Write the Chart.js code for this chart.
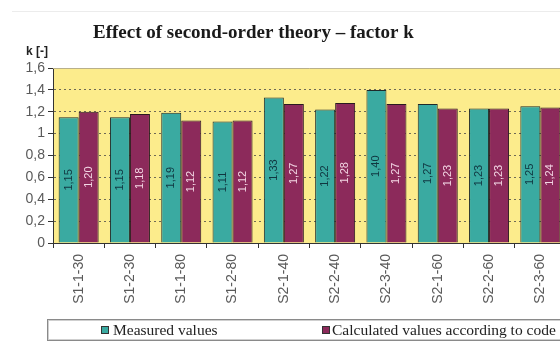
<!DOCTYPE html>
<html>
<head>
<meta charset="utf-8">
<script src="https://cdn.jsdelivr.net/npm/chart.js@4/dist/chart.umd.min.js"></script>
<style>
  html, body { margin: 0; padding: 0; background: #fff; overflow: hidden; }
  #wrap { width: 580px; height: 342px; }
</style>
</head>
<body>
<div id="wrap"><canvas id="c" width="580" height="342"></canvas></div>
<script>
// Specimen designations
const categories = ['S1-1-30', 'S1-2-30', 'S1-1-80', 'S1-2-80', 'S2-1-40', 'S2-2-40', 'S2-3-40', 'S2-1-60', 'S2-2-60', 'S2-3-60'];
// Factor k from tests
const measured = [1.15, 1.15, 1.19, 1.11, 1.33, 1.22, 1.40, 1.27, 1.23, 1.25];
// Factor k from the design code
const calculated = [1.20, 1.18, 1.12, 1.12, 1.27, 1.28, 1.27, 1.23, 1.23, 1.24];
// Value axis labels (decimal comma)
const yTickLabels = ['0', '0,2', '0,4', '0,6', '0,8', '1', '1,2', '1,4', '1,6'];
const seriesNames = ['Measured values', 'Calculated values according to code'];

const TEAL = '#3aaaa1';
const MAROON = '#8c2a5b';
const PLOT_BG = '#fcec8c';

const fmt = v => v.toFixed(2).replace('.', ',');

const decor = {
  id: 'decor',
  beforeDraw(chart) {
    const { ctx, chartArea: a } = chart;
    ctx.save();
    ctx.fillStyle = '#ffffff';
    ctx.fillRect(0, 0, chart.width, chart.height);
    ctx.fillStyle = PLOT_BG;
    ctx.fillRect(a.left, a.top, a.right - a.left, a.bottom - a.top);
    ctx.restore();
  },
  afterDatasetsDraw(chart) {
    const { ctx } = chart;
    const colors = ['#103640', '#f3d6e4'];
    ctx.save();
    ctx.font = '11px "Liberation Sans", Arial, sans-serif';
    ctx.textAlign = 'center';
    ctx.textBaseline = 'middle';
    chart.data.datasets.forEach((ds, di) => {
      const meta = chart.getDatasetMeta(di);
      meta.data.forEach((el, i) => {
        const { x, y, base } = el.getProps(['x', 'y', 'base'], true);
        ctx.save();
        ctx.translate(x, (y + base) / 2);
        ctx.rotate(-Math.PI / 2);
        ctx.fillStyle = colors[di];
        ctx.fillText(fmt(ds.data[i]), 0, 0);
        ctx.restore();
      });
    });
    ctx.restore();
  },
  afterDraw(chart) {
    const { ctx, chartArea: a } = chart;
    ctx.save();
    // thin rule along the top of the figure
    ctx.strokeStyle = '#ececec';
    ctx.lineWidth = 1;
    ctx.beginPath();
    ctx.moveTo(12, 11.5);
    ctx.lineTo(chart.width, 11.5);
    ctx.stroke();

    // top edge of the plot area
    ctx.strokeStyle = '#b9b08a';
    ctx.beginPath();
    ctx.moveTo(a.left, a.top + 0.5);
    ctx.lineTo(a.right, a.top + 0.5);
    ctx.stroke();

    // title
    ctx.fillStyle = '#1a1a1a';
    ctx.font = 'bold 19px "Liberation Serif", "Times New Roman", serif';
    ctx.textAlign = 'left';
    ctx.textBaseline = 'alphabetic';
    ctx.fillText('Effect of second-order theory \u2013 factor k', 93, 38);

    // axis unit
    ctx.font = 'bold 12px "Liberation Sans", Arial, sans-serif';
    ctx.fillStyle = '#222';
    ctx.fillText('k [-]', 26, 55);

    // legend box
    ctx.strokeStyle = '#8a8a8a';
    ctx.lineWidth = 1;
    ctx.strokeRect(47.5, 319.5, chart.width, 21);
    ctx.strokeStyle = '#cfcfcf';
    ctx.strokeRect(48.5, 320.5, chart.width, 19);

    const items = [
      { sx: 101, tx: 113, color: TEAL, text: chart.data.datasets[0].label },
      { sx: 322, tx: 332, color: MAROON, text: chart.data.datasets[1].label }
    ];
    ctx.font = '15.5px "Liberation Serif", "Times New Roman", serif';
    items.forEach(it => {
      ctx.fillStyle = it.color;
      ctx.fillRect(it.sx, 326, 8, 8);
      ctx.strokeStyle = '#333';
      ctx.strokeRect(it.sx + 0.5, 326.5, 7, 7);
      ctx.fillStyle = '#222';
      ctx.fillText(it.text, it.tx, 335);
    });
    ctx.restore();
  }
};

new Chart(document.getElementById('c'), {
  type: 'bar',
  data: {
    labels: categories,
    datasets: [
      {
        label: seriesNames[0],
        data: measured,
        backgroundColor: TEAL,
        borderColor: '#1f2a2a',
        borderWidth: 1,
        categoryPercentage: 0.78,
        barPercentage: 1.0
      },
      {
        label: seriesNames[1],
        data: calculated,
        backgroundColor: MAROON,
        borderColor: '#2a1a20',
        borderWidth: 1,
        categoryPercentage: 0.78,
        barPercentage: 1.0
      }
    ]
  },
  options: {
    responsive: false,
    animation: false,
    devicePixelRatio: 1,
    layout: { padding: { left: 0, right: 14, top: 68, bottom: 0 } },
    plugins: {
      legend: { display: false },
      title: { display: false },
      tooltip: { enabled: false }
    },
    scales: {
      x: {
        offset: true,
        grid: {
          display: true,
          offset: true,
          drawOnChartArea: false,
          drawTicks: true,
          tickLength: 5,
          tickColor: '#333'
        },
        border: { display: true, color: '#333', width: 1 },
        ticks: {
          minRotation: 90,
          maxRotation: 90,
          autoSkip: false,
          padding: 6,
          color: '#5a5a5a',
          font: { family: '"Liberation Sans", Arial, sans-serif', size: 14 }
        },
        afterFit(scale) { scale.height = 99; }
      },
      y: {
        min: 0,
        max: 1.6,
        ticks: {
          stepSize: 0.2,
          padding: 3,
          color: '#5a5a5a',
          font: { family: '"Liberation Sans", Arial, sans-serif', size: 14 },
          callback: (v) => yTickLabels[Math.round(v / 0.2)]
        },
        grid: {
          color: (c) => (c.tick && (c.tick.value <= 0.001 || c.tick.value >= 1.599)) ? 'rgba(0,0,0,0)' : '#6e6a55',
          lineWidth: 1,
          tickLength: 5,
          tickColor: '#333',
          tickBorderDash: []
        },
        border: { display: true, color: '#333', width: 1, dash: [2, 3] },
        afterFit(scale) { scale.width = 53; }
      }
    }
  },
  plugins: [decor]
});
</script>
</body>
</html>
